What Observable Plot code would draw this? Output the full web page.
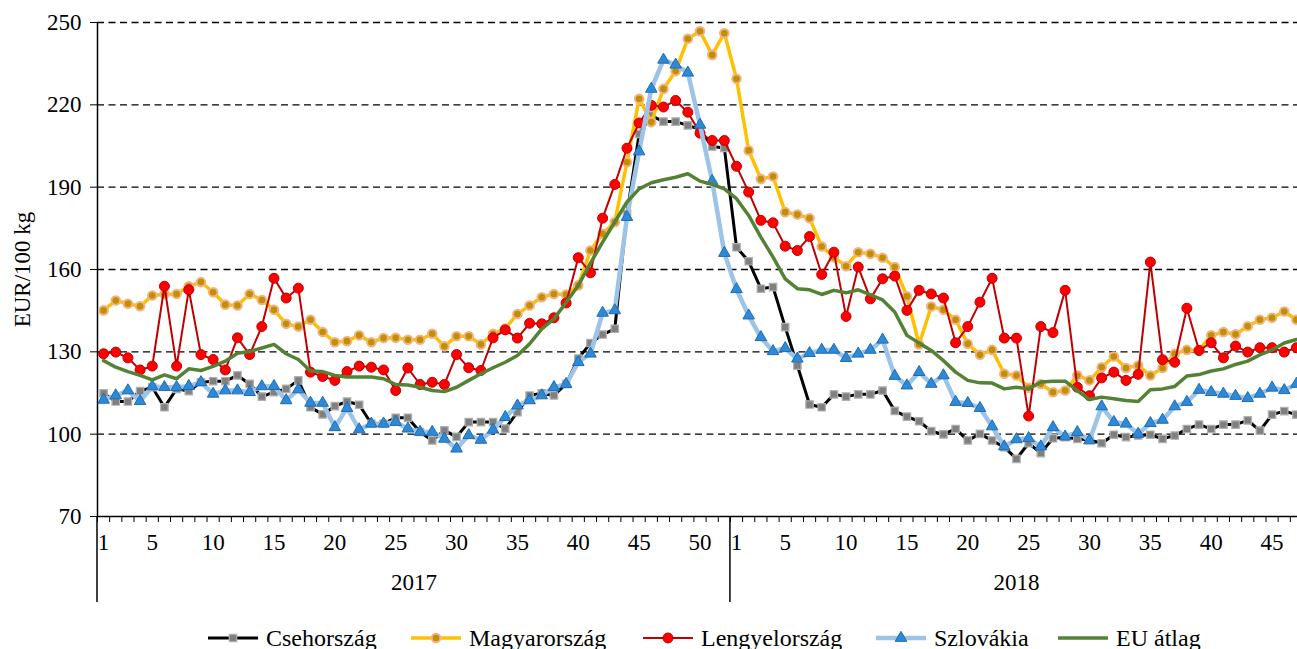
<!DOCTYPE html>
<html><head><meta charset="utf-8">
<script src="https://cdn.jsdelivr.net/npm/d3@7"></script>
<script src="https://cdn.jsdelivr.net/npm/@observablehq/plot@0.6"></script>
<style>
html,body{margin:0;padding:0;background:#fff;overflow:hidden;}
#chart{position:relative;width:1297px;height:649px;font-family:"Liberation Serif","Times New Roman",serif;color:#000;}
#legend{position:absolute;left:0;top:623px;width:1297px;height:30px;font-size:24px;}
.item{position:absolute;top:0;height:30px;display:flex;align-items:center;white-space:nowrap;}
.item svg{margin-right:7px;}
</style></head><body><div id="chart"></div>
<script>
// ---- data ----
const weeks2017 = d3.range(1, 53);
const weeks2018 = d3.range(1, 48);
const years = ["2017", "2018"];
const yTicks = [70, 100, 130, 160, 190, 220, 250];
const weekLabels2017 = [1, 5, 10, 15, 20, 25, 30, 35, 40, 45, 50];
const weekLabels2018 = [1, 5, 10, 15, 20, 25, 30, 35, 40, 45];
const seriesNames = ["Csehország", "Magyarország", "Lengyelország", "Szlovákia", "EU átlag"];

const cseh2017 = [114.9,111.9,111.9,115.7,117.1,109.8,116.5,115.7,118.9,119.3,119.3,121.4,118.3,113.7,115.3,116.5,119.6,109.8,107.2,110.2,111.9,110.7,103.8,103.8,106,106,100.8,97.7,101.4,99,104.4,104.4,104.4,102,108,114.1,114.9,114.1,118.3,127.5,133.2,136.3,138.4,180.3,209.4,216.1,213.9,213.9,212.5,211,204.8,204.3];
const cseh2018 = [168.1,163,153,153.6,139,125,110.8,109.8,114.5,113.7,114.5,114.5,115.9,108.5,106.4,104.7,101.1,99.9,101.9,97.7,100.1,97.7,95.3,91,96.7,93.1,98.5,98.9,98.3,97.9,96.7,99.8,98.9,99.5,99.8,98.3,99.5,101.9,103.5,101.9,103.5,103.5,105,101.3,107.1,108.4,107.1];

const magyar2017 = [145.1,148.7,147.5,146.6,150.5,151,151.1,153.9,155.4,151.7,147.2,146.9,151.1,148.9,145.3,140.2,139.2,141.7,137.2,133.5,133.9,136,133.5,135,135.1,134.4,134.4,136.6,132,135.7,135.7,132.7,136.6,138.5,143.8,146.9,149.9,151.1,150.9,154.2,166.9,173,177.3,199.1,222.2,213.7,225.8,232.3,244.1,246.8,238.2,246.1];
const magyar2018 = [229.5,203.4,193,193.9,180.9,180,178.7,168.4,164.5,161.2,166.3,165.7,164.3,160.9,150.2,132.7,146.5,145.3,141.7,132.9,128.9,130.7,122,121.4,116.9,118.3,115.3,115.9,121.4,119.6,124.4,128.3,124.1,125,121.4,124.1,129.3,130.7,130.5,136,137.2,136.4,139.3,141.7,142.4,144.7,141.7];

const lengyel2017 = [129.3,129.9,127.8,123.4,124.8,153.9,124.8,152.6,129,127.2,123.4,135.1,129,139.2,156.8,149.6,153.2,122.6,121,119.6,122.8,124.8,124.4,123.4,115.9,124.1,118.1,118.9,118.1,129,124.2,123.2,135.1,138,135,140.4,140.2,142.4,147.8,164.3,158.8,178.7,191,204.2,213.4,219.8,219.2,221.6,217.3,209.7,207,207];
const lengyel2018 = [197.6,188.2,177.9,177,168.5,166.9,172,158.2,166.3,142.9,160.9,149.3,156.6,157.6,145.1,152.4,151.1,149.6,133.3,139.2,148.1,156.8,135,135,106.6,139.2,137,152.4,117.1,114,120.5,122.6,119.6,121.8,162.7,127.1,126.2,145.9,130.5,133.3,127.8,132.1,129.9,131.5,131.5,129.9,131.5];

const szlovak2017 = [112.5,114.1,115.9,112,117.4,117.1,117.1,117.5,118.9,114.7,115.9,115.9,115.3,117.4,117.5,112.3,116.3,111.4,111.4,102.5,109.5,101.7,103.8,103.8,104.4,102,100.8,100.8,98.3,94.7,99.6,97.9,101.6,106.2,110.4,112.3,114.1,117.1,118.2,126.2,129.3,144.2,145.1,179.1,203,225.8,236.4,234.6,231.7,212.7,192.2,166];
const szlovak2018 = [152.8,143.2,135.3,130.2,131.3,127.5,129.5,130.7,130.7,127.7,129.3,130.7,134.4,121.2,117.7,122.6,118.3,121.4,111.7,111.3,109.5,102.8,95.5,98.1,98.5,95.5,102.5,99.1,100.7,97.7,110.1,104.4,103.8,100.1,104,105.2,110.1,111.7,116.1,115.3,114.7,113.9,113.1,114.7,116.9,116,118.3];

const eu2017 = [126.8,124.4,122.8,121.4,119.8,121.6,120.2,123.8,123.2,124.7,126.6,129.5,130.1,131.4,132.7,129.3,127.2,123,122.8,121.4,120.8,120.8,120.8,120.2,118.1,117.9,117.1,115.9,115.5,117.1,119.6,122,124.2,126.2,128.7,132.9,138.4,142,148,154.2,162.3,170,177.3,184.6,189.4,191.6,192.7,193.6,194.9,192.2,191,189.4];
const eu2018 = [185.8,179.7,171.8,164.5,156.6,153,152.6,150.9,152.4,151.5,152.6,150.8,148.9,144.5,136,133.2,130.5,126.8,122.6,119.6,118.7,118.6,116.5,117.1,116.5,119,119.3,119.3,115.9,112.6,113.5,112.9,112.3,111.9,116.2,116.5,117.4,121.2,121.7,123,123.8,125.4,126.6,128.9,130.7,133.2,134.5];

// ---- build tables ----
const n17 = weeks2017.length, n18 = weeks2018.length, nAll = n17 + n18;
const allValues = [
  [...cseh2017, ...cseh2018],
  [...magyar2017, ...magyar2018],
  [...lengyel2017, ...lengyel2018],
  [...szlovak2017, ...szlovak2018],
  [...eu2017, ...eu2018]
];
const tables = allValues.map((vals, s) => vals.map((v, k) => ({k: k + 0.5, v, s: seriesNames[s]})));

const styles = [
  {line: "#000000", lw: 3, symbol: "square", fill: "#808080", stroke: "#b0b0b0", sw: 1.2, r: 4.2},
  {line: "#FFC000", lw: 3.5, symbol: "circle", fill: "#BF9000", stroke: "#F4B183", sw: 2, r: 4.3},
  {line: "#C00000", lw: 2, symbol: "circle", fill: "#FF0000", stroke: "#C00000", sw: 1, r: 5},
  {line: "#9DC3E6", lw: 4.5, symbol: "triangle", fill: "#2E8AD8", stroke: "#1F6CB3", sw: 1, r: 4.3},
  {line: "#548235", lw: 3.5, symbol: null}
];

const boundaries = d3.range(0, nAll + 1);
const labelTicks = [...weekLabels2017.map(w => w - 0.5), ...weekLabels2018.map(w => n17 + w - 0.5)];
const labelText = new Map([...weekLabels2017.map(w => [w - 0.5, String(w)]), ...weekLabels2018.map(w => [n17 + w - 0.5, String(w)])]);
const yearRows = [{x: n17 / 2, t: years[0]}, {x: n17 + n18 / 2, t: years[1]}];

const seriesMarks = [];
tables.forEach((tab, i) => {
  const st = styles[i];
  seriesMarks.push(Plot.line(tab, {x: "k", y: "v", stroke: st.line, strokeWidth: st.lw, strokeLinejoin: "round", strokeLinecap: "round"}));
  if (st.symbol) seriesMarks.push(Plot.dot(tab, {x: "k", y: "v", symbol: st.symbol, r: st.r, fill: st.fill, stroke: st.stroke, strokeWidth: st.sw}));
});

// separators below the x axis (y-axis extension and year divider)
function separators(index, scales, values, dimensions) {
  const g = d3.create("svg:g");
  const y0 = dimensions.height - dimensions.marginBottom;
  [0, n17].forEach(b => {
    g.append("line").attr("x1", scales.x(b)).attr("x2", scales.x(b))
      .attr("y1", y0).attr("y2", y0 + 86).attr("stroke", "black").attr("stroke-width", 1.5);
  });
  return g.node();
}

const plot = Plot.plot({
  width: 1297, height: 612,
  marginLeft: 97, marginRight: -5, marginTop: 22, marginBottom: 96,
  style: {fontFamily: "'Liberation Serif','Times New Roman',serif", fontSize: "23px", background: "white", color: "black", overflow: "visible"},
  x: {domain: [0, nAll]},
  y: {domain: [70, 250]},
  marks: [
    Plot.ruleY(yTicks.slice(1), {stroke: "black", strokeWidth: 1.4, strokeDasharray: "7,4.5"}),
    Plot.axisY({ticks: yTicks, tickSize: 7, tickPadding: 9, fontSize: 23, label: null}),
    Plot.ruleX([0], {stroke: "black", strokeWidth: 1.5}),
    Plot.ruleY([70], {stroke: "black", strokeWidth: 1.5}),
    Plot.axisX({ticks: boundaries, tickSize: 6, tickFormat: () => "", label: null}),
    Plot.axisX({ticks: labelTicks, tickSize: 0, tickPadding: 17, tickFormat: d => labelText.get(d), fontSize: 23, label: null}),
    separators,
    Plot.text(yearRows, {x: "x", text: "t", frameAnchor: "bottom", dy: 73, fontSize: 23}),
    Plot.text(["EUR/100 kg"], {frameAnchor: "left", textAnchor: "middle", rotate: -90, dx: -75, fontSize: 23}),
    ...seriesMarks
  ]
});

const chart = document.getElementById("chart");
chart.appendChild(plot);

// legend
const legend = document.createElement("div");
legend.id = "legend";
chart.appendChild(legend);
const legendLeft = [207, 410, 642, 875, 1057];
seriesNames.forEach((name, i) => {
  const st = styles[i];
  const item = document.createElement("div");
  item.className = "item";
  item.style.left = legendLeft[i] + "px";
  const svg = d3.create("svg").attr("width", 52).attr("height", 20);
  svg.append("line").attr("x1", 1).attr("x2", 51).attr("y1", 10).attr("y2", 10)
    .attr("stroke", st.line).attr("stroke-width", st.lw);
  if (st.symbol) {
    const sym = {square: d3.symbolSquare, circle: d3.symbolCircle, triangle: d3.symbolTriangle}[st.symbol];
    svg.append("path").attr("d", d3.symbol(sym, Math.PI * st.r * st.r)())
      .attr("transform", "translate(26,10)").attr("fill", st.fill).attr("stroke", st.stroke).attr("stroke-width", st.sw);
  }
  item.appendChild(svg.node());
  const span = document.createElement("span");
  span.textContent = name;
  item.appendChild(span);
  legend.appendChild(item);
});
</script></body></html>
